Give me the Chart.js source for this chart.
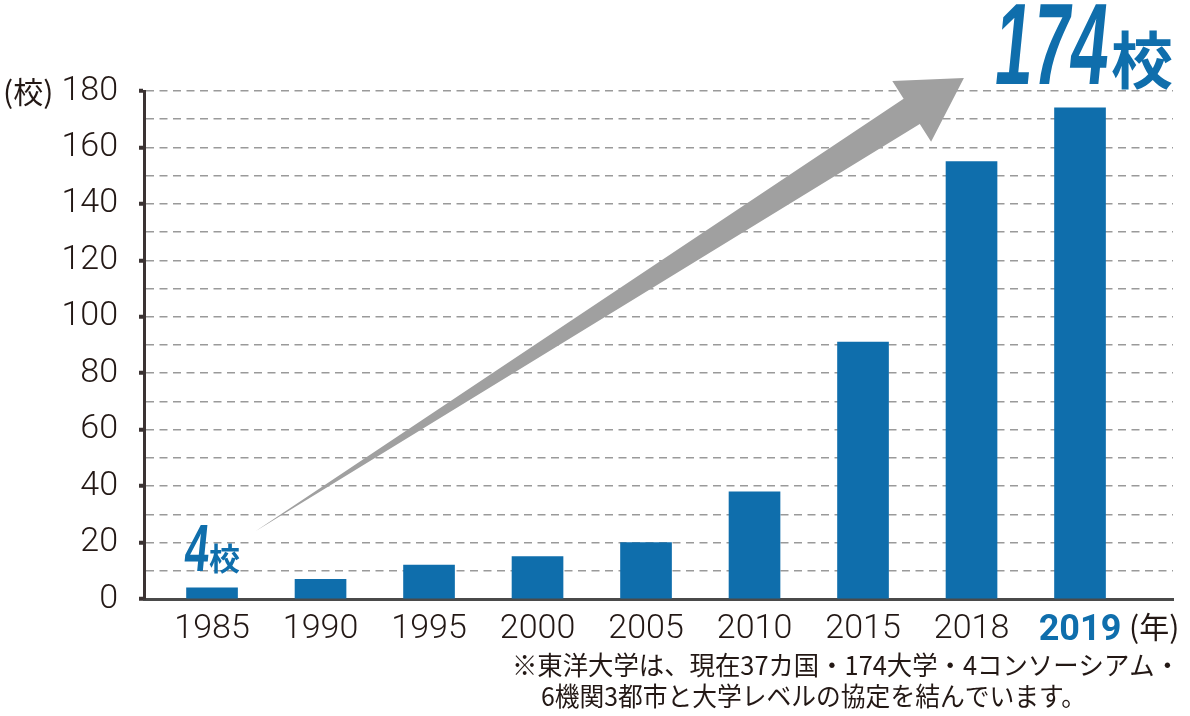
<!DOCTYPE html>
<html><head><meta charset="utf-8">
<script src="https://cdn.jsdelivr.net/npm/chart.js@4.4.1/dist/chart.umd.min.js"></script>
<style>html,body{margin:0;padding:0;background:#fff;}canvas{display:block}</style>
</head><body>
<canvas id="c" width="1190" height="716"></canvas>
<script>
const years = ['1985','1990','1995','2000','2005','2010','2015','2018','2019'];
const schools = [4, 7, 12, 15, 20, 38, 91, 155, 174];
const yTickValues = [0, 20, 40, 60, 80, 100, 120, 140, 160, 180];
const yUnitLabel = '(校)';
const xUnitLabel = '(年)';
const countSuffix = '校';
const noteLines = ['※東洋大学は、現在37カ国・174大学・4コンソーシアム・', '6機関3都市と大学レベルの協定を結んでいます。'];

const BLUE = '#0f6eac';
const INK = '#231815';
const NUM_FONT = '"Roboto", "Liberation Sans", sans-serif';
const JP_FONT = '"Noto Sans CJK JP", "Noto Sans", sans-serif';

function fitText(ctx, text, font, left, baseline, targetW, skew) {
  ctx.save();
  ctx.font = font;
  const w = ctx.measureText(text).width;
  ctx.translate(left, baseline);
  ctx.transform(1, 0, -skew, 1, 0, 0);
  ctx.scale(targetW / w, 1);
  ctx.textAlign = 'left';
  ctx.textBaseline = 'alphabetic';
  ctx.fillText(text, 0, 0);
  ctx.restore();
}

const annotations = {
  id: 'annotations',
  afterDatasetsDraw(chart) {
    const { ctx, scales: { x, y } } = chart;
    const p0 = { x: x.getPixelForValue(0.4), y: y.getPixelForValue(24) };
    const p1 = { x: x.getPixelForValue(6.93), y: y.getPixelForValue(184.6) };
    const dx = p1.x - p0.x, dy = p1.y - p0.y, L = Math.hypot(dx, dy);
    const ux = dx / L, uy = dy / L, nx = -uy, ny = ux;
    const headLen = 62, headHalf = 36, shaftHalf = 15;
    const bx = p1.x - ux * headLen, by = p1.y - uy * headLen;
    ctx.save();
    ctx.fillStyle = '#a0a0a0';
    ctx.beginPath();
    ctx.moveTo(p0.x, p0.y);
    ctx.lineTo(bx + nx * shaftHalf, by + ny * shaftHalf);
    ctx.lineTo(bx + nx * headHalf, by + ny * headHalf);
    ctx.lineTo(p1.x, p1.y);
    ctx.lineTo(bx - nx * headHalf, by - ny * headHalf);
    ctx.lineTo(bx - nx * shaftHalf, by - ny * shaftHalf);
    ctx.closePath();
    ctx.fill();
    ctx.restore();
  },
  afterDraw(chart) {
    const { ctx, scales: { x, y } } = chart;
    ctx.save();
    ctx.fillStyle = BLUE;
    const last = schools.length - 1;
    const cxLast = x.getPixelForValue(last);
    fitText(ctx, String(schools[last]), 'bold 116px "Liberation Sans", sans-serif', cxLast - 88, 84, 113, 0.1);
    ctx.font = 'bold 62px ' + JP_FONT;
    ctx.textBaseline = 'alphabetic';
    ctx.textAlign = 'left';
    ctx.fillText(countSuffix, cxLast + 31, 84);
    const cx0 = x.getPixelForValue(0);
    fitText(ctx, String(schools[0]), 'bold 67px "Liberation Sans", sans-serif', cx0 - 29, 571, 24, 0.1);
    ctx.font = 'bold 31px ' + JP_FONT;
    ctx.fillText(countSuffix, cx0 - 3, 570);
    ctx.fillStyle = INK;
    ctx.font = '30px ' + JP_FONT;
    ctx.textBaseline = 'middle';
    ctx.textAlign = 'left';
    ctx.fillText(yUnitLabel, 3, y.getPixelForValue(180) + 1);
    ctx.fillText(xUnitLabel, cxLast + 49, 627);
    fitText(ctx, noteLines[0], '26px ' + JP_FONT, 512, 675, 668, 0);
    fitText(ctx, noteLines[1], '26px ' + JP_FONT, 541, 706, 545, 0);
    ctx.restore();
  }
};

new Chart(document.getElementById('c'), {
  type: 'bar',
  data: {
    datasets: [{
      data: schools.map((v, i) => ({ x: i, y: v })),
      backgroundColor: BLUE,
      barThickness: 51,
      borderWidth: 0
    }]
  },
  options: {
    responsive: false,
    animation: false,
    devicePixelRatio: 1,
    layout: { padding: { top: 91, right: 17, bottom: 0, left: 0 } },
    plugins: { legend: { display: false }, tooltip: { enabled: false } },
    scales: {
      x: {
        type: 'linear',
        offset: false,
        min: -0.627,
        max: 8.857,
        afterFit: s => { s.height = 117; },
        afterBuildTicks: s => { s.ticks = years.map((_, i) => ({ value: i })); },
        grid: { display: false, drawTicks: false, offset: false },
        border: { display: true, color: '#4a4a4a', width: 3 },
        ticks: {
          autoSkip: false,
          maxRotation: 0,
          padding: 10,
          callback: v => years[v] ?? '',
          color: c => c.index === years.length - 1 ? BLUE : INK,
          font: c => ({ family: NUM_FONT, size: c.index === years.length - 1 ? 36 : 34, weight: c.index === years.length - 1 ? 'bold' : '300' })
        }
      },
      y: {
        min: 0,
        max: 180,
        afterFit: s => { s.width = 144; },
        afterBuildTicks: s => {
          const t = [];
          for (let v = 0; v <= 180; v += 10) t.push({ value: v });
          s.ticks = t;
        },
        grid: {
          color: '#9a9a9a',
          lineWidth: 1.5,
          tickLength: 5,
          tickWidth: 4,
          tickColor: c => (c.tick && yTickValues.includes(c.tick.value)) ? '#3b3333' : 'rgba(0,0,0,0)'
        },
        border: { display: true, color: '#3b3333', width: 3, dash: [8, 5.5] },
        ticks: {
          autoSkip: false,
          padding: 21,
          color: INK,
          font: { family: NUM_FONT, size: 34, weight: '300' },
          callback: v => yTickValues.includes(v) ? String(v) : ''
        }
      }
    }
  },
  plugins: [annotations]
});
</script>
</body></html>
